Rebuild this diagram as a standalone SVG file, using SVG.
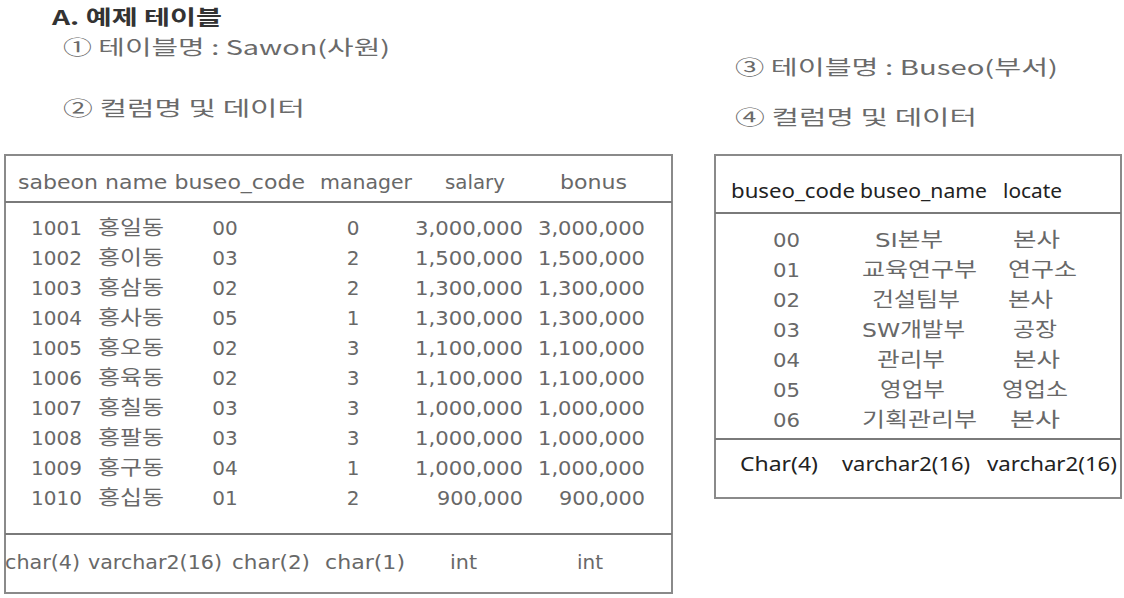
<svg xmlns="http://www.w3.org/2000/svg" width="1124" height="598" viewBox="0 0 1124 598">
<style>
.bg{fill:#ffffff}
.box{fill:none;stroke:#8a8a8a;stroke-width:2}
.sep{stroke:#7a7a7a;stroke-width:2}
.title{font-family:"Noto Sans CJK KR","Liberation Sans",sans-serif;font-size:20px;font-weight:bold;fill:#333}
.sub{font-family:"Noto Sans CJK KR","DejaVu Sans",sans-serif;font-size:20px;fill:#6a6a6a}
.g{font-family:"DejaVu Sans","Noto Sans CJK KR",sans-serif;font-size:20px;fill:#686868}
.d{font-family:"Noto Sans","Open Sans",sans-serif;font-size:19px;fill:#222}
.m{text-anchor:middle}
.e{text-anchor:end}
</style>
<rect class="bg" x="0" y="0" width="1124" height="598"/>

<g id="heading">
<text class="title" x="52" y="25" textLength="170" lengthAdjust="spacingAndGlyphs">A. 예제 테이블</text>
<text class="sub" x="63" y="55" textLength="327" lengthAdjust="spacingAndGlyphs">① 테이블명 : Sawon(사원)</text>
<text class="sub" x="63" y="116" textLength="242" lengthAdjust="spacingAndGlyphs">② 컬럼명 및 데이터</text>
<text class="sub" x="735" y="75" textLength="323" lengthAdjust="spacingAndGlyphs">③ 테이블명 : Buseo(부서)</text>
<text class="sub" x="735" y="125" textLength="242" lengthAdjust="spacingAndGlyphs">④ 컬럼명 및 데이터</text>
</g>

<g id="table-sawon">
<rect class="box" x="5" y="155" width="667" height="438"/>
<line class="sep" x1="5" y1="202" x2="672" y2="202"/>
<line class="sep" x1="5" y1="534" x2="672" y2="534"/>
<g id="sawon-header">
<text class="g" x="18" y="189" textLength="287" lengthAdjust="spacingAndGlyphs">sabeon name buseo_code</text>
<text class="g" x="320" y="189" textLength="92" lengthAdjust="spacingAndGlyphs">manager</text>
<text class="g" x="445" y="189" textLength="60" lengthAdjust="spacingAndGlyphs">salary</text>
<text class="g" x="560" y="189" textLength="67" lengthAdjust="spacingAndGlyphs">bonus</text>
</g>
<g id="sawon-rows">
<text class="g" x="31" y="235">1001</text><text class="g" x="98" y="235" textLength="66" lengthAdjust="spacingAndGlyphs">홍일동</text><text class="g m" x="225" y="235">00</text><text class="g m" x="353" y="235">0</text><text class="g e" x="523" y="235" textLength="108" lengthAdjust="spacingAndGlyphs">3,000,000</text><text class="g e" x="645" y="235" textLength="107" lengthAdjust="spacingAndGlyphs">3,000,000</text>
<text class="g" x="31" y="265">1002</text><text class="g" x="98" y="265" textLength="66" lengthAdjust="spacingAndGlyphs">홍이동</text><text class="g m" x="225" y="265">03</text><text class="g m" x="353" y="265">2</text><text class="g e" x="523" y="265" textLength="108" lengthAdjust="spacingAndGlyphs">1,500,000</text><text class="g e" x="645" y="265" textLength="107" lengthAdjust="spacingAndGlyphs">1,500,000</text>
<text class="g" x="31" y="295">1003</text><text class="g" x="98" y="295" textLength="66" lengthAdjust="spacingAndGlyphs">홍삼동</text><text class="g m" x="225" y="295">02</text><text class="g m" x="353" y="295">2</text><text class="g e" x="523" y="295" textLength="108" lengthAdjust="spacingAndGlyphs">1,300,000</text><text class="g e" x="645" y="295" textLength="107" lengthAdjust="spacingAndGlyphs">1,300,000</text>
<text class="g" x="31" y="325">1004</text><text class="g" x="98" y="325" textLength="66" lengthAdjust="spacingAndGlyphs">홍사동</text><text class="g m" x="225" y="325">05</text><text class="g m" x="353" y="325">1</text><text class="g e" x="523" y="325" textLength="108" lengthAdjust="spacingAndGlyphs">1,300,000</text><text class="g e" x="645" y="325" textLength="107" lengthAdjust="spacingAndGlyphs">1,300,000</text>
<text class="g" x="31" y="355">1005</text><text class="g" x="98" y="355" textLength="66" lengthAdjust="spacingAndGlyphs">홍오동</text><text class="g m" x="225" y="355">02</text><text class="g m" x="353" y="355">3</text><text class="g e" x="523" y="355" textLength="108" lengthAdjust="spacingAndGlyphs">1,100,000</text><text class="g e" x="645" y="355" textLength="107" lengthAdjust="spacingAndGlyphs">1,100,000</text>
<text class="g" x="31" y="385">1006</text><text class="g" x="98" y="385" textLength="66" lengthAdjust="spacingAndGlyphs">홍육동</text><text class="g m" x="225" y="385">02</text><text class="g m" x="353" y="385">3</text><text class="g e" x="523" y="385" textLength="108" lengthAdjust="spacingAndGlyphs">1,100,000</text><text class="g e" x="645" y="385" textLength="107" lengthAdjust="spacingAndGlyphs">1,100,000</text>
<text class="g" x="31" y="415">1007</text><text class="g" x="98" y="415" textLength="66" lengthAdjust="spacingAndGlyphs">홍칠동</text><text class="g m" x="225" y="415">03</text><text class="g m" x="353" y="415">3</text><text class="g e" x="523" y="415" textLength="108" lengthAdjust="spacingAndGlyphs">1,000,000</text><text class="g e" x="645" y="415" textLength="107" lengthAdjust="spacingAndGlyphs">1,000,000</text>
<text class="g" x="31" y="445">1008</text><text class="g" x="98" y="445" textLength="66" lengthAdjust="spacingAndGlyphs">홍팔동</text><text class="g m" x="225" y="445">03</text><text class="g m" x="353" y="445">3</text><text class="g e" x="523" y="445" textLength="108" lengthAdjust="spacingAndGlyphs">1,000,000</text><text class="g e" x="645" y="445" textLength="107" lengthAdjust="spacingAndGlyphs">1,000,000</text>
<text class="g" x="31" y="475">1009</text><text class="g" x="98" y="475" textLength="66" lengthAdjust="spacingAndGlyphs">홍구동</text><text class="g m" x="225" y="475">04</text><text class="g m" x="353" y="475">1</text><text class="g e" x="523" y="475" textLength="108" lengthAdjust="spacingAndGlyphs">1,000,000</text><text class="g e" x="645" y="475" textLength="107" lengthAdjust="spacingAndGlyphs">1,000,000</text>
<text class="g" x="31" y="505">1010</text><text class="g" x="98" y="505" textLength="66" lengthAdjust="spacingAndGlyphs">홍십동</text><text class="g m" x="225" y="505">01</text><text class="g m" x="353" y="505">2</text><text class="g e" x="523" y="505" textLength="86" lengthAdjust="spacingAndGlyphs">900,000</text><text class="g e" x="645" y="505" textLength="86" lengthAdjust="spacingAndGlyphs">900,000</text>
</g>
<g id="sawon-types">
<text class="g" x="5" y="569" textLength="75" lengthAdjust="spacingAndGlyphs">char(4)</text>
<text class="g" x="88" y="569" textLength="134" lengthAdjust="spacingAndGlyphs">varchar2(16)</text>
<text class="g" x="232" y="569" textLength="78" lengthAdjust="spacingAndGlyphs">char(2)</text>
<text class="g" x="325" y="569" textLength="80" lengthAdjust="spacingAndGlyphs">char(1)</text>
<text class="g" x="450" y="569" textLength="27" lengthAdjust="spacingAndGlyphs">int</text>
<text class="g" x="577" y="569" textLength="26" lengthAdjust="spacingAndGlyphs">int</text>
</g>
</g>

<g id="table-buseo">
<rect class="box" x="715" y="155" width="406" height="343"/>
<line class="sep" x1="715" y1="213" x2="1121" y2="213"/>
<line class="sep" x1="715" y1="439" x2="1121" y2="439"/>
<g id="buseo-header">
<text class="d" x="731" y="198" textLength="124" lengthAdjust="spacingAndGlyphs">buseo_code</text>
<text class="d" x="860" y="198" textLength="127" lengthAdjust="spacingAndGlyphs">buseo_name</text>
<text class="d" x="1003" y="198" textLength="59" lengthAdjust="spacingAndGlyphs">locate</text>
</g>
<g id="buseo-rows">
<text class="g" x="773" y="247" textLength="27" lengthAdjust="spacingAndGlyphs">00</text><text class="g" x="875" y="247" textLength="68" lengthAdjust="spacingAndGlyphs">SI본부</text><text class="g" x="1013" y="247" textLength="47" lengthAdjust="spacingAndGlyphs">본사</text>
<text class="g" x="773" y="277" textLength="27" lengthAdjust="spacingAndGlyphs">01</text><text class="g" x="862" y="277" textLength="115" lengthAdjust="spacingAndGlyphs">교육연구부</text><text class="g" x="1008" y="277" textLength="69" lengthAdjust="spacingAndGlyphs">연구소</text>
<text class="g" x="773" y="307" textLength="27" lengthAdjust="spacingAndGlyphs">02</text><text class="g" x="872" y="307" textLength="88" lengthAdjust="spacingAndGlyphs">건설팀부</text><text class="g" x="1008" y="307" textLength="45" lengthAdjust="spacingAndGlyphs">본사</text>
<text class="g" x="773" y="337" textLength="27" lengthAdjust="spacingAndGlyphs">03</text><text class="g" x="862" y="337" textLength="103" lengthAdjust="spacingAndGlyphs">SW개발부</text><text class="g" x="1013" y="337" textLength="44" lengthAdjust="spacingAndGlyphs">공장</text>
<text class="g" x="773" y="367" textLength="27" lengthAdjust="spacingAndGlyphs">04</text><text class="g" x="877" y="367" textLength="68" lengthAdjust="spacingAndGlyphs">관리부</text><text class="g" x="1013" y="367" textLength="47" lengthAdjust="spacingAndGlyphs">본사</text>
<text class="g" x="773" y="397" textLength="27" lengthAdjust="spacingAndGlyphs">05</text><text class="g" x="880" y="397" textLength="65" lengthAdjust="spacingAndGlyphs">영업부</text><text class="g" x="1002" y="397" textLength="66" lengthAdjust="spacingAndGlyphs">영업소</text>
<text class="g" x="773" y="427" textLength="27" lengthAdjust="spacingAndGlyphs">06</text><text class="g" x="862" y="427" textLength="115" lengthAdjust="spacingAndGlyphs">기획관리부</text><text class="g" x="1010" y="427" textLength="50" lengthAdjust="spacingAndGlyphs">본사</text>
</g>
<g id="buseo-types">
<text class="d" x="740" y="471" textLength="78" lengthAdjust="spacingAndGlyphs">Char(4)</text>
<text class="d" x="842" y="471" textLength="128" lengthAdjust="spacingAndGlyphs">varchar2(16)</text>
<text class="d" x="987" y="471" textLength="130" lengthAdjust="spacingAndGlyphs">varchar2(16)</text>
</g>
</g>
</svg>
